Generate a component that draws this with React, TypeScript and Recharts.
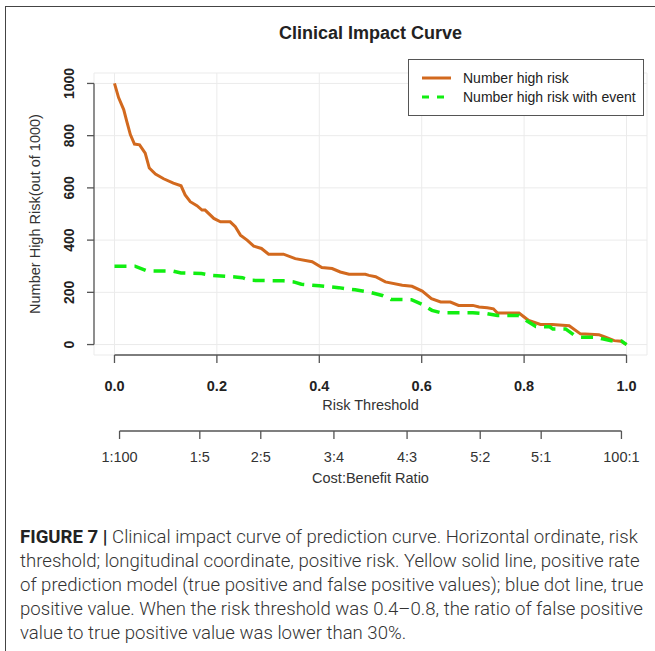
import React from 'react';
import { LineChart, Line, XAxis, YAxis, CartesianGrid, Legend, Label } from 'recharts';

// ---- data ----
const highRiskThreshold = [
  0, 0.008, 0.018, 0.024, 0.031, 0.039, 0.049, 0.06, 0.068, 0.08, 0.096, 0.115, 0.13, 0.138,
  0.148, 0.161, 0.171, 0.177, 0.194, 0.207, 0.226, 0.236, 0.246, 0.259, 0.272, 0.287, 0.301,
  0.33, 0.353, 0.386, 0.405, 0.425, 0.441, 0.458, 0.49, 0.497, 0.51, 0.529, 0.562, 0.581, 0.601,
  0.619, 0.637, 0.656, 0.672, 0.7, 0.712, 0.728, 0.74, 0.748, 0.79, 0.809, 0.832, 0.855, 0.888,
  0.91, 0.946, 0.959, 0.976, 0.989, 1.0,
];
const highRiskCount = [
  1000, 946, 900, 855, 804, 768, 765, 733, 676, 653, 635, 618, 608, 573,
  547, 532, 515, 515, 483, 470, 470, 451, 419, 400, 377, 368, 346,
  346, 329, 317, 295, 291, 278, 269, 269, 265, 260, 240, 227, 223, 205,
  176, 163, 163, 150, 150, 144, 141, 137, 121, 121, 92, 77, 77, 72,
  41, 38, 28, 15, 13, 0,
];
const eventThreshold = [
  0, 0.04, 0.063, 0.115, 0.13, 0.17, 0.19, 0.236, 0.25, 0.265, 0.33, 0.35, 0.365, 0.4, 0.438,
  0.455, 0.47, 0.497, 0.523, 0.54, 0.58, 0.601, 0.62, 0.637, 0.7, 0.728, 0.748, 0.79, 0.809,
  0.823, 0.85, 0.856, 0.881, 0.897, 0.91, 0.94, 0.953, 0.97, 0.99, 1.0,
];
const eventCount = [
  300, 300, 282, 281, 274, 272, 265, 259, 256, 246, 244, 240, 231, 225, 218,
  213, 210, 201, 188, 173, 172, 154, 131, 122, 122, 118, 111, 111, 86,
  69, 68, 60, 60, 37, 28, 28, 22, 15, 14, 0,
];
const riskTicks = [0, 0.2, 0.4, 0.6, 0.8, 1.0];
const countTicks = [0, 200, 400, 600, 800, 1000];
const costBenefitLabels = ['1:100', '1:5', '2:5', '3:4', '4:3', '5:2', '5:1', '100:1'];

const seriesNames = ['Number high risk', 'Number high risk with event'];

const highRiskData = highRiskThreshold.map((t, i) => ({ t, v: highRiskCount[i] }));
const eventData = eventThreshold.map((t, i) => ({ t, v: eventCount[i] }));
const costBenefitTicks = costBenefitLabels.map((l) => {
  const [c, b] = l.split(':').map(Number);
  return c / (c + b);
});
const cbLabelOf = (v: number) => {
  const i = costBenefitTicks.findIndex((t) => Math.abs(t - v) < 1e-9);
  return i >= 0 ? costBenefitLabels[i] : '';
};

// ---- layout / style ----
const X_DOMAIN: [number, number] = [-0.04, 1.04];
const Y_DOMAIN: [number, number] = [-40, 1040];
const MARGIN = { top: 73, right: 8, left: 0, bottom: 4 };
const Y_AXIS_W = 94;
const X_MAIN_H = 76;
const X_CB_H = 60;
const CHART_W = 655;
const PLOT_H = 282;
const CHART_H = MARGIN.top + PLOT_H + X_MAIN_H + X_CB_H + MARGIN.bottom;
const PLOT_W = CHART_W - MARGIN.left - MARGIN.right - Y_AXIS_W;
const TICK = 8;
const XM_MARGIN = 18;
const XC_MARGIN = 13;
const YT_MARGIN = 18;
const AXIS_COLOR = '#555';
const FONT = '"Liberation Sans", Arial, sans-serif';
const ORANGE = '#D2691E';
const GREEN = '#11ee11';

const MainXTick = (props: any) => {
  const { x, y, payload, index } = props;
  const w = typeof props.width === 'number' ? props.width : PLOT_W;
  const ppu = w / (X_DOMAIN[1] - X_DOMAIN[0]);
  const axisY = y - TICK - XM_MARGIN;
  return (
    <g>
      {index === 0 && (
        <line x1={x} y1={axisY} x2={x + ppu * (riskTicks[riskTicks.length - 1] - riskTicks[0])} y2={axisY}
          stroke={AXIS_COLOR} strokeWidth={1.3} />
      )}
      <text x={x} y={y} dy="0.71em" textAnchor="middle" fontFamily={FONT} fontWeight="bold" fontSize={14.5} fill="#222">
        {Number(payload.value).toFixed(1)}
      </text>
    </g>
  );
};

const CbXTick = (props: any) => {
  const { x, y, payload, index } = props;
  const w = typeof props.width === 'number' ? props.width : PLOT_W;
  const ppu = w / (X_DOMAIN[1] - X_DOMAIN[0]);
  const axisY = y - TICK - XC_MARGIN;
  return (
    <g>
      {index === 0 && (
        <line x1={x} y1={axisY}
          x2={x + ppu * (costBenefitTicks[costBenefitTicks.length - 1] - costBenefitTicks[0])} y2={axisY}
          stroke={AXIS_COLOR} strokeWidth={1.3} />
      )}
      <text x={x} y={y} dy="0.71em" textAnchor="middle" fontFamily={FONT} fontSize={14.5} fill="#333">
        {cbLabelOf(payload.value)}
      </text>
    </g>
  );
};

const YTick = (props: any) => {
  const { x, y, payload, index } = props;
  const h = typeof props.height === 'number' ? props.height : PLOT_H;
  const ppu = h / (Y_DOMAIN[1] - Y_DOMAIN[0]);
  const axisX = x + TICK + YT_MARGIN - 1;
  return (
    <g>
      {index === 0 && (
        <line x1={axisX} y1={y} x2={axisX} y2={y - ppu * (countTicks[countTicks.length - 1] - countTicks[0])}
          stroke={AXIS_COLOR} strokeWidth={1.3} />
      )}
      <text x={x} y={y} dy="0.35em" transform={`rotate(-90 ${x} ${y})`} textAnchor="middle"
        fontFamily={FONT} fontWeight="bold" fontSize={14} fill="#222">
        {payload.value}
      </text>
    </g>
  );
};

const renderLegend = (props: any) => {
  const payload = props.payload || [];
  return (
    <div style={{ width: 236, height: 57, border: `1.3px solid ${AXIS_COLOR}`, background: '#fff', boxSizing: 'border-box' }}>
      <svg width={234} height={55} style={{ display: 'block' }}>
        {payload.map((e: any, i: number) => (
          <g key={i}>
            <line x1={13} x2={i === 0 ? 42 : 36} y1={18 + i * 19} y2={18 + i * 19} stroke={e.color} strokeWidth={3}
              strokeDasharray={i === 0 ? undefined : '7 8'} />
            <text x={54} y={18 + i * 19} dy="0.35em" fontFamily={FONT} fontSize={14} fill="#222">{e.value}</text>
          </g>
        ))}
      </svg>
    </div>
  );
};

const YTitle = (props: any) => {
  const vb = props.viewBox || { y: MARGIN.top, height: PLOT_H };
  const cx = 35;
  const cy = vb.y + vb.height / 2;
  return (
    <text x={cx} y={cy} dy="0.35em" transform={`rotate(-90 ${cx} ${cy})`} textAnchor="middle"
      fontFamily={FONT} fontSize={14.5} fill="#333">
      Number High Risk(out of 1000)
    </text>
  );
};

export default function App() {
  return (
    <div style={{ position: 'absolute', left: 0, top: 0, width: 655, height: 651, overflow: 'hidden', background: '#fff' }}>
      <div style={{ position: 'absolute', left: 5, top: 6, width: 700, height: 700, borderLeft: '1.5px solid #444', borderTop: '1.5px solid #444' }} />
      <div style={{ position: 'absolute', left: 0, top: 0 }}>
        <LineChart width={CHART_W} height={CHART_H} margin={MARGIN}>
          <CartesianGrid stroke="#ebebeb" strokeWidth={1} />
          <XAxis xAxisId={0} dataKey="t" type="number" domain={X_DOMAIN} allowDataOverflow ticks={riskTicks} interval={0}
            height={X_MAIN_H} axisLine={false} tickSize={TICK} tickMargin={XM_MARGIN}
            tickLine={{ stroke: AXIS_COLOR, strokeWidth: 1.3 }} tick={<MainXTick />}>
            <Label value="Risk Threshold" position="insideTop" offset={45} fontFamily={FONT} fontSize={14.5} fill="#333" />
          </XAxis>
          <XAxis xAxisId="cb" dataKey="t" type="number" domain={X_DOMAIN} allowDataOverflow ticks={costBenefitTicks} interval={0}
            height={X_CB_H} axisLine={false} tickSize={TICK} tickMargin={XC_MARGIN}
            tickLine={{ stroke: AXIS_COLOR, strokeWidth: 1.3 }} tick={<CbXTick />}>
            <Label value="Cost:Benefit Ratio" position="insideTop" offset={42} fontFamily={FONT} fontSize={14.5} fill="#333" />
          </XAxis>
          <YAxis type="number" domain={Y_DOMAIN} allowDataOverflow ticks={countTicks} interval={0} width={Y_AXIS_W}
            axisLine={false} tickSize={7} tickMargin={YT_MARGIN} tickLine={{ stroke: AXIS_COLOR, strokeWidth: 1.3 }}
            tick={<YTick />}>
            <Label content={<YTitle />} />
          </YAxis>
          <Legend layout="horizontal" verticalAlign="middle" align="center" content={renderLegend}
            wrapperStyle={{ top: 59, left: 408, width: 236, height: 57 }} />
          <Line data={highRiskData} dataKey="v" name={seriesNames[0]} type="linear" stroke={ORANGE} strokeWidth={3}
            dot={false} activeDot={false} isAnimationActive={false} />
          <Line data={eventData} dataKey="v" name={seriesNames[1]} type="linear" stroke={GREEN} strokeWidth={3.5}
            strokeDasharray="12 8" dot={false} activeDot={false} isAnimationActive={false} />
        </LineChart>
      </div>
      <div style={{ position: 'absolute', left: 20, top: 525, width: 640, fontFamily: FONT, fontWeight: 'bold', fontSize: 18, lineHeight: '24px', color: '#222', display: 'none' }} />
      <div style={{ position: 'absolute', left: 94, width: 553, top: 21, textAlign: 'center', fontFamily: FONT, fontWeight: 'bold', fontSize: 18, lineHeight: '24px', color: '#222' }}>
        Clinical Impact Curve
      </div>
      <div style={{ position: 'absolute', left: 20, top: 525, width: 640, fontFamily: 'Roboto, "Open Sans", sans-serif', fontWeight: 300, fontSize: 18.6, lineHeight: '24px', color: '#333', whiteSpace: 'nowrap' }}>
        <span style={{ fontWeight: 700, color: '#222' }}>FIGURE 7 |</span> Clinical impact curve of prediction curve. Horizontal ordinate, risk<br />
        threshold; longitudinal coordinate, positive risk. Yellow solid line, positive rate<br />
        of prediction model (true positive and false positive values); blue dot line, true<br />
        positive value. When the risk threshold was 0.4–0.8, the ratio of false positive<br />
        value to true positive value was lower than 30%.
      </div>
    </div>
  );
}
